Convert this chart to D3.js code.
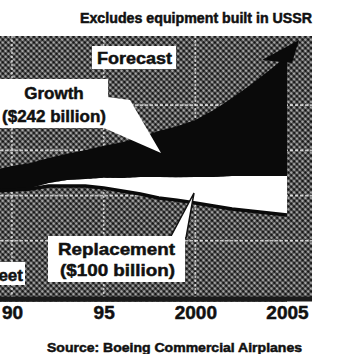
<!DOCTYPE html>
<html><head><meta charset="utf-8">
<script src="https://cdn.jsdelivr.net/npm/d3@7"></script>
<style>html,body{margin:0;padding:0;background:#fff;overflow:hidden}text{font-family:"Liberation Sans",Arial,sans-serif;font-weight:bold;fill:#111;stroke:#111;stroke-width:0.5px}</style>
</head><body><svg id="c" width="343" height="354"></svg>
<script>
const years = [1989,1990,1991,1992,1993,1994,1995,1996,1997,1998,1999,2000,2001,2002,2003,2004,2005];
const existingFleet = [41.7,42.1,42.5,43.6,43.6,43.6,42.9,41.7,40.6,39.1,38.3,37.2,36.1,35.0,34.2,33.5,32.7];
const replacement = [0,0,0.4,1.1,2.3,2.6,3.8,4.9,6.4,7.9,8.6,9.8,10.9,12.4,13.2,13.9,14.7];
const growth = [7.9,9.0,9.4,9.4,9.8,10.9,12.0,13.5,15.0,17.3,19.2,21.4,25.2,29.3,34.2,39.5,45.1];
const tickYears = [1990,1995,2000,2005];
const tickLabels = ["90","95","2000","2005"];
const gridYears = [1990,1995,2000];
const gridValues = [23,40,57,74];

const svg = d3.select("#c");
const x = d3.scaleLinear().domain([1990,2005]).range([12,287]);
const y = d3.scaleLinear().domain([0,100]).range([302,36]);

const defs = svg.append("defs");
const pat = defs.append("pattern").attr("id","ht").attr("width",4).attr("height",4)
  .attr("patternUnits","userSpaceOnUse").attr("patternTransform","rotate(45)");
pat.append("rect").attr("width",4).attr("height",4).attr("fill","#c4c4c4");
pat.append("circle").attr("cx",2).attr("cy",2).attr("r",1.85).attr("fill","#161616");

// plot background
svg.append("rect").attr("x",0).attr("y",36).attr("width",312).attr("height",264).attr("fill","url(#ht)");

const rows = years.map((yr,i)=>({yr, e:existingFleet[i], r:existingFleet[i]+replacement[i], g:existingFleet[i]+replacement[i]+growth[i]}));

// existing fleet
svg.append("path").datum(rows).attr("fill","url(#ht)")
  .attr("d", d3.area().x(d=>x(d.yr)).y0(y(0)).y1(d=>y(d.e)));

// gridlines
svg.append("g").selectAll("line").data(gridYears).join("line")
  .attr("x1",d=>x(d)).attr("x2",d=>x(d)).attr("y1",36).attr("y2",298)
  .attr("stroke","#f4f4f4").attr("stroke-width",1.6).attr("stroke-dasharray","2,2").attr("opacity",0.75);
svg.append("g").selectAll("line").data(gridValues).join("line")
  .attr("x1",0).attr("x2",312).attr("y1",d=>y(d)).attr("y2",d=>y(d))
  .attr("stroke","#f4f4f4").attr("stroke-width",1.6).attr("stroke-dasharray","3,2").attr("opacity",0.75);

// replacement (white)
svg.append("path").datum(rows).attr("fill","#fff")
  .attr("d", d3.area().x(d=>x(d.yr)).y0(d=>y(d.e)).y1(d=>y(d.r)));
// growth (black)
svg.append("path").datum(rows).attr("fill","#0a0a0a")
  .attr("d", d3.area().x(d=>x(d.yr)).y0(d=>y(d.r)).y1(d=>y(d.g)));
// existing fleet top line
svg.append("path").datum(rows).attr("fill","none").attr("stroke","#0a0a0a").attr("stroke-width",3.5)
  .attr("d", d3.line().x(d=>x(d.yr)).y(d=>y(d.e)));

// forecast arrowhead
svg.append("polygon").attr("points","262,60 299,40 292,63").attr("fill","#0a0a0a");

// axis
svg.append("line").attr("x1",0).attr("x2",312).attr("y1",299).attr("y2",299).attr("stroke","#1a1a1a").attr("stroke-width",5);
const ax = svg.append("g").attr("transform","translate(0,300)")
  .call(d3.axisBottom(x).tickValues(tickYears).tickFormat((d,i)=>tickLabels[i]).tickSize(0).tickPadding(6));
ax.select(".domain").remove();
ax.selectAll("text").style("font-size","19px").style("font-family","'Liberation Sans',Arial,sans-serif")
  .style("font-weight","bold").attr("fill","#111").style("stroke","#111").style("stroke-width","0.5px");

// Title
svg.append("text").attr("x",80).attr("y",23).attr("textLength",232).attr("lengthAdjust","spacingAndGlyphs")
  .style("font-size","14px").text("Excludes equipment built in USSR");

// Forecast label
svg.append("rect").attr("x",92).attr("y",46).attr("width",84).attr("height",23).attr("fill","#fff");
svg.append("text").attr("x",97).attr("y",64).attr("textLength",75).attr("lengthAdjust","spacingAndGlyphs")
  .style("font-size","17px").text("Forecast");

// Growth label
svg.append("polygon").attr("points","100,96 130,100 161,153 104,128").attr("fill","#fff");
svg.append("rect").attr("x",-5).attr("y",79).attr("width",113).attr("height",49).attr("fill","#fff");
svg.append("text").attr("x",54).attr("y",99).attr("text-anchor","middle").style("font-size","17px").text("Growth");
svg.append("text").attr("x",54).attr("y",122).attr("text-anchor","middle").style("font-size","17px").text("($242 billion)");

// Replacement label
svg.append("polygon").attr("points","170,238 186,238 194,193").attr("fill","#fff").attr("stroke","#111").attr("stroke-width",1.5);
svg.append("rect").attr("x",48).attr("y",236).attr("width",137).attr("height",46).attr("fill","#fff");
svg.append("text").attr("x",58).attr("y",255).attr("textLength",117).attr("lengthAdjust","spacingAndGlyphs")
  .style("font-size","17px").text("Replacement");
svg.append("text").attr("x",60).attr("y",276).attr("textLength",115).attr("lengthAdjust","spacingAndGlyphs")
  .style("font-size","17px").text("($100 billion)");

// Existing fleet label
svg.append("rect").attr("x",-5).attr("y",262).attr("width",30).attr("height",23).attr("fill","#fff");
svg.append("text").attr("x",23).attr("y",281).attr("text-anchor","end").style("font-size","17px").text("Existing fleet");

// Source
svg.append("text").attr("x",47).attr("y",352).attr("textLength",255).attr("lengthAdjust","spacingAndGlyphs")
  .style("font-size","13px").text("Source: Boeing Commercial Airplanes");
</script></body></html>
